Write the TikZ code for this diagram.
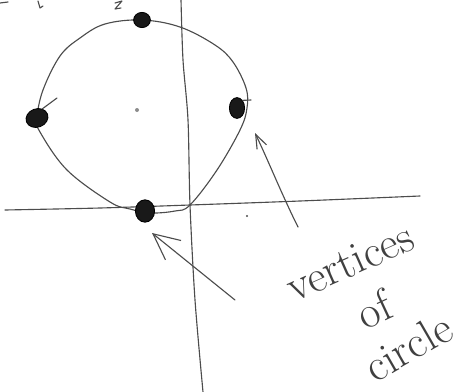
\documentclass[tikz,border=0pt]{standalone}
\usetikzlibrary{arrows.meta, shapes.geometric}

\tikzset{
	pencil/.style={draw=black!70, line width=0.8pt, line cap=round, line join=round},
	vertexdot/.style={shape=ellipse, fill=black!90, draw=black, line width=0.6pt, inner sep=0pt},
	scrawl/.style={font=\fontsize{32}{34}\selectfont, text=black!75, inner sep=0pt},
}

\begin{document}
\begin{tikzpicture}[x=0.25mm, y=-0.25mm]
	\useasboundingbox (0, 0) rectangle (466, 392);
	% Axes and circle:
	\draw[pencil] plot[smooth] coordinates {(5, 210) (100, 208) (190, 205) (300, 201) (420, 196)};
	\draw[pencil] plot[smooth] coordinates {(181, 0) (183, 60) (188, 120) (190, 205) (195, 300) (203, 392)};
	\draw[pencil] plot[smooth cycle, tension=0.6] coordinates {(142, 20) (180, 27) (215, 45) (233, 62) (246, 88) (247, 108) (240, 130) (217, 170) (190, 205) (175, 211) (150, 213) (130, 209) (110, 202) (67, 170) (40, 132) (37, 118) (43, 90) (60, 56) (80, 38) (105, 24)};
	% Vertices:
	\node[vertexdot, minimum width=4.2mm, minimum height=3.8mm](vtop) at (142, 20){};
	\node[vertexdot, minimum width=5.6mm, minimum height=4.6mm, rotate=20](vleft) at (37, 118){};
	\node[vertexdot, minimum width=3.8mm, minimum height=5.2mm](vright) at (237, 108){};
	\node[vertexdot, minimum width=4.8mm, minimum height=5.6mm](vbottom) at (145, 211){};
	\node[shape=circle, fill=black!45, inner sep=0pt, minimum size=1mm](ctr) at (137, 110){};
	\node[shape=circle, fill=black!70, inner sep=0pt, minimum size=0.6mm](spk) at (247, 216){};
	\draw[pencil] (vleft.north east) -- (57, 98);
	\draw[pencil] (vright.north east) -- (251, 100);
	% Arrows:
	\coordinate (t1) at (298, 227);
	\coordinate (h1) at (255, 133);
	\coordinate (t2) at (235, 300);
	\coordinate (h2) at (152, 233);
	\draw[pencil, -{Straight Barb[length=3.5mm, width=2.6mm]}] (t1) .. controls (282, 195) and (268, 160) .. (h1);
	\draw[pencil, -{Straight Barb[length=6.5mm, width=6.2mm]}] (t2) -- (h2);
	% Labels:
	\node[scrawl, rotate=24](lbl1) at (350, 262){vertices};
	\node[scrawl, rotate=25](lbl2) at (374, 309){of};
	\node[scrawl, rotate=30](lbl3) at (408, 347){circle};
	% Cut-off marks at the top:
	\draw[pencil] (0, 3) -- (8, 2);
	\draw[pencil] (38, 1) -- (40, 8) -- (43, 6);
	\draw[pencil] (115, 3) -- (122, 1) -- (115, 9) -- (121, 8);
\end{tikzpicture}
\end{document}
